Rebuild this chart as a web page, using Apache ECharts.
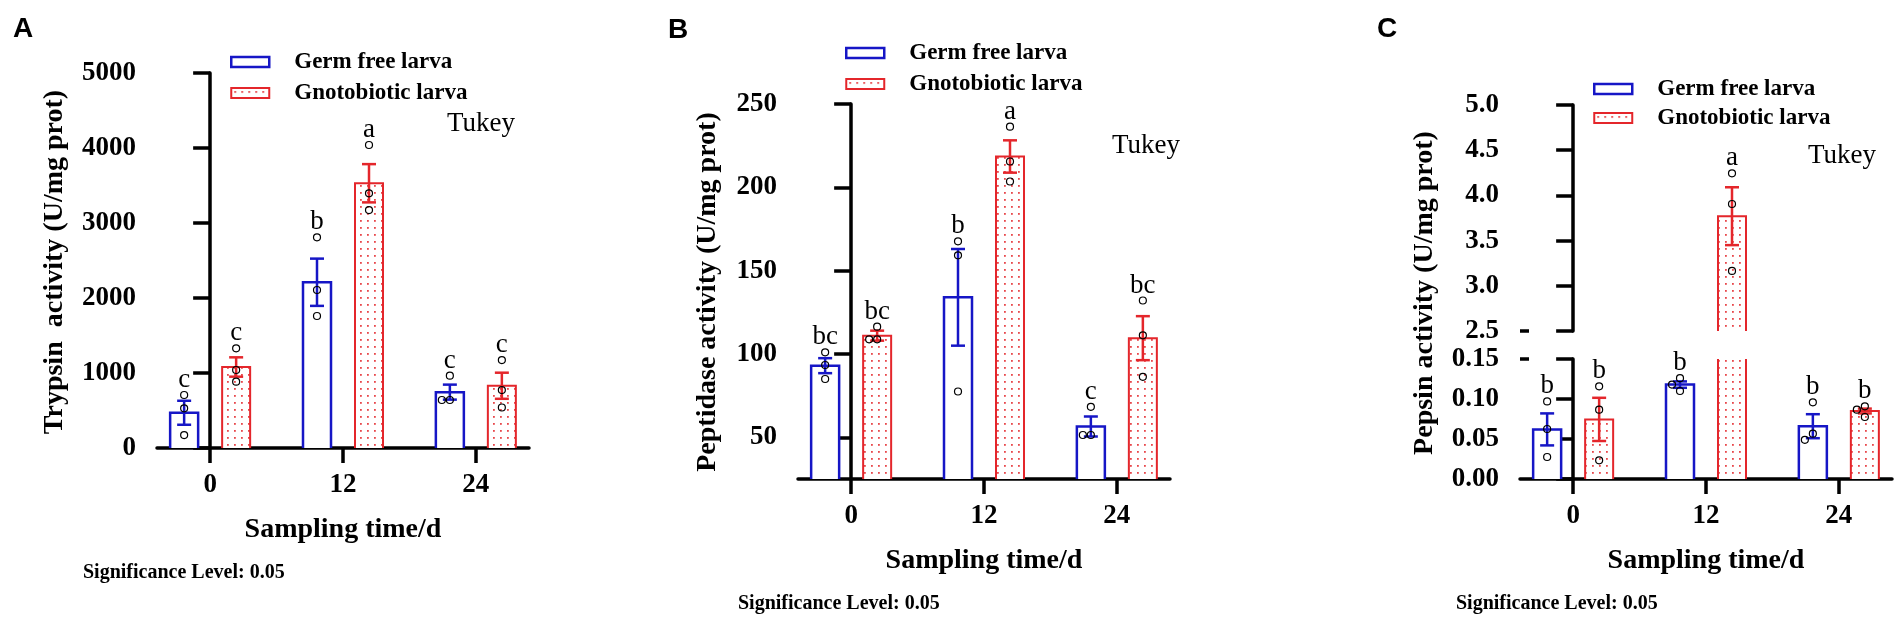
<!DOCTYPE html>
<html>
<head>
<meta charset="utf-8">
<script src="https://cdn.jsdelivr.net/npm/echarts@6/dist/echarts.min.js"></script>
<style>
  html, body { margin: 0; padding: 0; background: #fff; }
  #chart { width: 1904px; height: 621px; }
</style>
</head>
<body>
<div id="chart"></div>
<script>
const timeLabels = ['0', '12', '24'];
const germFreeName = 'Germ free larva';
const gnotoName = 'Gnotobiotic larva';

// A - trypsin
const trypsinTicks = [0, 1000, 2000, 3000, 4000, 5000];
const trypsinGermFreeMean = [470, 2210, 745];
const trypsinGermFreeSem = [160, 315, 100];
const trypsinGermFreeDots = [[707, 529, 173], [2809, 2107, 1760], [964, 640, 640]];
const trypsinGermFreeLetters = ['c', 'b', 'c'];
const trypsinGnotoMean = [1080, 3530, 830];
const trypsinGnotoSem = [129, 255, 174];
const trypsinGnotoDots = [[1329, 1040, 884], [4040, 3396, 3173], [1173, 773, 540]];
const trypsinGnotoLetters = ['c', 'a', 'c'];

// B - peptidase
const peptidaseTicks = [50, 100, 150, 200, 250];
const peptidaseGermFreeMean = [93, 134, 56.5];
const peptidaseGermFreeSem = [4.5, 29, 6];
const peptidaseGermFreeDots = [[101, 93.4, 85], [167.6, 159.2, 77.5], [68.3, 51.4, 51.4]];
const peptidaseGermFreeLetters = ['bc', 'b', 'c'];
const peptidaseGnotoMean = [111, 218.5, 109.5];
const peptidaseGnotoSem = [3, 9.7, 13.2];
const peptidaseGnotoDots = [[116.4, 108.8, 108.8], [236.4, 215.5, 203.5], [132.1, 111.2, 86.3]];
const peptidaseGnotoLetters = ['bc', 'a', 'bc'];

// C - pepsin (broken axis)
const pepsinUpperTicks = [2.5, 3.0, 3.5, 4.0, 4.5, 5.0];
const pepsinLowerTicks = [0, 0.05, 0.10, 0.15];
const pepsinGermFreeMean = [0.062, 0.118, 0.066];
const pepsinGermFreeSem = [0.020, 0.004, 0.015];
const pepsinGermFreeDots = [[0.097, 0.0625, 0.0275], [0.126, 0.118, 0.110], [0.0958, 0.0566, 0.049]];
const pepsinGermFreeLetters = ['b', 'b', 'b'];
const pepsinGnotoMean = [0.0745, 3.77, 0.085];
const pepsinGnotoSem = [0.027, 0.32, 0.003];
const pepsinGnotoDots = [[0.1158, 0.0866, 0.0233], [4.244, 3.905, 3.164], [0.0908, 0.0866, 0.0775]];
const pepsinGnotoLetters = ['b', 'a', 'b'];

const BLUE = '#1616c6';
const RED = '#e4262b';
const SERIF = "'Liberation Serif', 'Times New Roman', serif";
const BAR_W = 28;
const CAP = 7;

function makeDotCanvas() {
  const c = document.createElement('canvas');
  c.width = 7; c.height = 7;
  const ctx = c.getContext('2d');
  ctx.fillStyle = '#fff';
  ctx.fillRect(0, 0, 7, 7);
  ctx.fillStyle = '#e8474b';
  ctx.fillRect(3, 3, 1.8, 1.8);
  return c;
}
const dotFill = { image: makeDotCanvas(), repeat: 'repeat' };

function seg(x1, y1, x2, y2, color, w) {
  return { type: 'line', shape: { x1, y1, x2, y2 }, style: { stroke: color, lineWidth: w } };
}

function groupSeries(name, grid, mean, sem, dots, letters, opt) {
  return {
    type: 'custom',
    name: name,
    xAxisIndex: grid,
    yAxisIndex: grid,
    encode: { x: 0, y: 1 },
    data: mean.map((m, i) => [i, m, sem[i]]),
    renderItem: function (params, api) {
      const i = params.dataIndex;
      const cat = api.value(0), m = api.value(1), s = api.value(2);
      const children = [];
      if (m <= opt.min) return { type: 'group', children };
      const cs = params.coordSys;
      const base = api.coord([cat, opt.min]);
      const cx = base[0] + opt.offset;
      const bottom = base[1];
      const clipped = m > opt.max;
      const top = clipped ? cs.y : api.coord([cat, m])[1];
      const hw = BAR_W / 2;
      children.push({ type: 'rect', shape: { x: cx - hw, y: top, width: BAR_W, height: bottom - top },
        style: { fill: opt.fill } });
      let highest = top;
      if (clipped) {
        children.push(seg(cx - hw, top, cx - hw, bottom, opt.color, opt.lw));
        children.push(seg(cx + hw, top, cx + hw, bottom, opt.color, opt.lw));
      } else {
        children.push({ type: 'polyline',
          shape: { points: [[cx - hw, bottom], [cx - hw, top], [cx + hw, top], [cx + hw, bottom]] },
          style: { stroke: opt.color, lineWidth: opt.lw, fill: null } });
        const yHi = api.coord([cat, m + s])[1];
        const yLo = api.coord([cat, Math.max(m - s, opt.min)])[1];
        children.push(seg(cx, yHi, cx, yLo, opt.color, 2.5));
        children.push(seg(cx - CAP, yHi, cx + CAP, yHi, opt.color, 2.5));
        if (m - s > opt.min) children.push(seg(cx - CAP, yLo, cx + CAP, yLo, opt.color, 2.5));
        highest = Math.min(highest, yHi);
      }
      // replicate points, nudged sideways when they overlap
      const placed = [];
      dots[i].forEach(v => {
        if (v < opt.min || v > opt.max) return;
        const y = api.coord([cat, v])[1];
        let dx = 0;
        for (const cand of [0, -8, 8, -16, 16]) {
          if (placed.every(p => Math.hypot(p[0] - (cx + cand), p[1] - y) >= 7)) { dx = cand; break; }
        }
        placed.push([cx + dx, y]);
        children.push({ type: 'circle', shape: { cx: cx + dx, cy: y, r: 3.5 },
          style: { fill: 'rgba(255,255,255,0)', stroke: '#000', lineWidth: 1.2 } });
        highest = Math.min(highest, y - 3.5);
      });
      if (!clipped) {
        children.push({ type: 'text', x: cx, y: highest + 2,
          style: { text: letters[i], fontFamily: SERIF, fontSize: 27, fill: '#000',
            align: 'center', verticalAlign: 'bottom' } });
      }
      return { type: 'group', children };
    }
  };
}

const axisLineStyle = { color: '#000', width: 3.5 };
const tickFont = { fontFamily: SERIF, fontWeight: 'bold', fontSize: 27, color: '#000' };

function xAxisFor(grid, show) {
  return {
    type: 'value', gridIndex: grid, min: -0.4, max: 2.4, show: show,
    splitLine: { show: false },
    axisLine: { onZero: false, lineStyle: axisLineStyle },
    axisTick: { customValues: [0, 1, 2], length: 15, lineStyle: axisLineStyle },
    axisLabel: Object.assign({ customValues: [0, 1, 2], margin: 24,
      formatter: v => timeLabels[Math.round(v)] }, tickFont),
    name: 'Sampling time/d', nameLocation: 'middle', nameGap: 68,
    nameTextStyle: { fontFamily: SERIF, fontWeight: 'bold', fontSize: 28, color: '#000' }
  };
}

function yAxisFor(grid, min, max, ticks, digits) {
  return {
    type: 'value', gridIndex: grid, min, max,
    splitLine: { show: false },
    axisLine: { lineStyle: axisLineStyle },
    axisTick: { customValues: ticks, length: 17, lineStyle: axisLineStyle },
    axisLabel: Object.assign({ customValues: ticks, margin: 21,
      formatter: v => v.toFixed(digits) }, tickFont)
  };
}

function capAxis(grid, min, max, at) {
  return {
    type: 'value', gridIndex: grid, min, max, position: 'left',
    splitLine: { show: false }, axisLine: { show: false }, axisLabel: { show: false },
    axisTick: { inside: true, length: 9, customValues: [at], lineStyle: axisLineStyle }
  };
}

function legendFor(left, top, rowH) {
  return {
    left, top, orient: 'vertical', padding: 0, itemGap: 0,
    itemWidth: 38, itemHeight: 10, selectedMode: false, icon: 'rect',
    textStyle: { fontFamily: SERIF, fontWeight: 'bold', fontSize: 23, color: '#000',
      lineHeight: rowH, padding: [0, 0, 0, 20] },
    data: [
      { name: germFreeName, itemStyle: { color: '#fff', borderColor: BLUE, borderWidth: 2.5 } },
      { name: gnotoName, itemStyle: { color: dotFill, borderColor: RED, borderWidth: 2 } }
    ]
  };
}

function txt(x, y, text, size, weight, family) {
  return { type: 'text', x, y,
    style: { text, fontFamily: family || SERIF, fontSize: size, fontWeight: weight, fill: '#000',
      align: 'left', verticalAlign: 'middle' } };
}
function ytitle(x, y, text) {
  return { type: 'text', x, y, rotation: Math.PI / 2,
    style: { text, fontFamily: SERIF, fontSize: 28, fontWeight: 'bold', fill: '#000',
      align: 'center', verticalAlign: 'middle' } };
}

const gfA = { min: 0, max: 5000, offset: -26, color: BLUE, fill: '#fff', lw: 2.5 };
const gnA = { min: 0, max: 5000, offset: 26, color: RED, fill: dotFill, lw: 2 };
const gfB = { min: 25, max: 250, offset: -26, color: BLUE, fill: '#fff', lw: 2.5 };
const gnB = { min: 25, max: 250, offset: 26, color: RED, fill: dotFill, lw: 2 };
const gnCu = { min: 2.5, max: 5, offset: 26, color: RED, fill: dotFill, lw: 2 };
const gfCl = { min: 0, max: 0.15, offset: -26, color: BLUE, fill: '#fff', lw: 2.5 };
const gnCl = { min: 0, max: 0.15, offset: 26, color: RED, fill: dotFill, lw: 2 };

const SANS = "'Liberation Sans', Arial, sans-serif";

const option = {
  animation: false,
  backgroundColor: '#fff',
  grid: [
    { left: 157, top: 73, width: 372, height: 375 },
    { left: 798, top: 104, width: 372, height: 375 },
    { left: 1520, top: 105, width: 372, height: 226 },
    { left: 1520, top: 359, width: 372, height: 120 }
  ],
  xAxis: [xAxisFor(0, true), xAxisFor(1, true), xAxisFor(2, false), xAxisFor(3, true)],
  yAxis: [
    yAxisFor(0, 0, 5000, trypsinTicks, 0),
    yAxisFor(1, 25, 250, peptidaseTicks, 0),
    yAxisFor(2, 2.5, 5, pepsinUpperTicks, 1),
    yAxisFor(3, 0, 0.15, pepsinLowerTicks, 2),
    capAxis(2, 2.5, 5, 2.5),
    capAxis(3, 0, 0.15, 0.15)
  ],
  legend: [legendFor(230, 46.5, 31), legendFor(845, 37.5, 31), legendFor(1593, 74.5, 29)],
  graphic: [
    txt(13, 29.5, 'A', 28, 'bold', SANS),
    txt(668, 30, 'B', 28, 'bold', SANS),
    txt(1377, 29.5, 'C', 28, 'bold', SANS),
    txt(447, 124, 'Tukey', 27, 'normal'),
    txt(1112, 146, 'Tukey', 27, 'normal'),
    txt(1808, 156, 'Tukey', 27, 'normal'),
    txt(83, 573, 'Significance Level: 0.05', 20, 'bold'),
    txt(738, 604, 'Significance Level: 0.05', 20, 'bold'),
    txt(1456, 604, 'Significance Level: 0.05', 20, 'bold'),
    ytitle(55, 262, 'Trypsin  activity (U/mg prot)'),
    ytitle(708, 292, 'Peptidase activity (U/mg prot)'),
    ytitle(1425, 293, 'Pepsin activity (U/mg prot)')
  ],
  series: [
    groupSeries(germFreeName, 0, trypsinGermFreeMean, trypsinGermFreeSem, trypsinGermFreeDots, trypsinGermFreeLetters, gfA),
    groupSeries(gnotoName, 0, trypsinGnotoMean, trypsinGnotoSem, trypsinGnotoDots, trypsinGnotoLetters, gnA),
    groupSeries(germFreeName, 1, peptidaseGermFreeMean, peptidaseGermFreeSem, peptidaseGermFreeDots, peptidaseGermFreeLetters, gfB),
    groupSeries(gnotoName, 1, peptidaseGnotoMean, peptidaseGnotoSem, peptidaseGnotoDots, peptidaseGnotoLetters, gnB),
    groupSeries(gnotoName, 2, pepsinGnotoMean, pepsinGnotoSem, pepsinGnotoDots, pepsinGnotoLetters, gnCu),
    groupSeries(germFreeName, 3, pepsinGermFreeMean, pepsinGermFreeSem, pepsinGermFreeDots, pepsinGermFreeLetters, gfCl),
    groupSeries(gnotoName, 3, pepsinGnotoMean, pepsinGnotoSem, pepsinGnotoDots, pepsinGnotoLetters, gnCl)
  ]
};

const chart = echarts.init(document.getElementById('chart'), null, { renderer: 'canvas' });
chart.setOption(option);
window.addEventListener('resize', () => chart.resize());
</script>
</body>
</html>
